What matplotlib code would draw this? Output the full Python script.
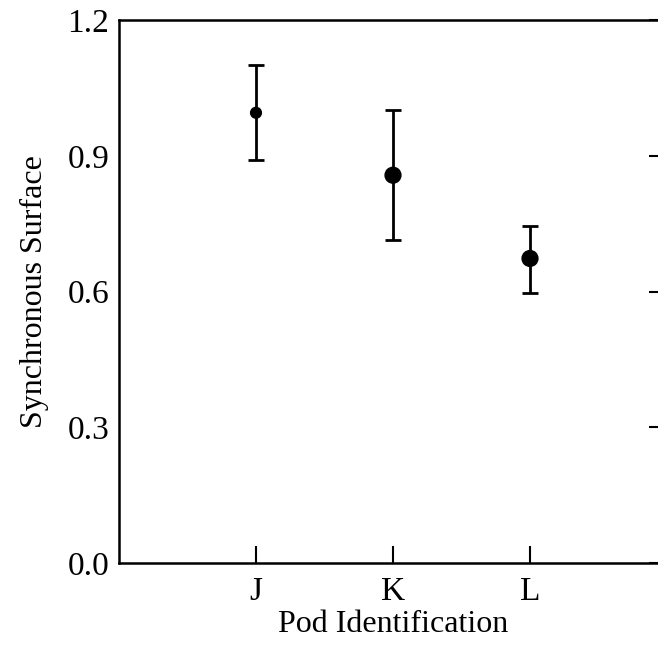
import numpy as np
import matplotlib
matplotlib.use('Agg')
import matplotlib.pyplot as plt

pods = ['J', 'K', 'L']
surface = [0.995, 0.857, 0.673]
err_low = [0.104, 0.143, 0.076]
err_high = [0.105, 0.144, 0.072]
marker_area = [60, 130, 130]

plt.rcParams['font.family'] = ['Liberation Serif', 'DejaVu Serif']

fig = plt.figure(figsize=(6.58, 6.54), dpi=100)
ax = fig.add_axes([119 / 658, 91 / 654, 548 / 658, 543 / 654])

x = np.arange(1, len(pods) + 1)
ax.errorbar(x, surface, yerr=[err_low, err_high], fmt='none', ecolor='black',
            elinewidth=2.0, capsize=6, capthick=2.0)
ax.scatter(x, surface, s=marker_area, color='black', zorder=3)

ax.set_xlim(0, 4)
ax.set_ylim(0, 1.2)
ax.set_xticks(x)
ax.set_xticklabels(pods)
ax.set_yticks([0.0, 0.3, 0.6, 0.9, 1.2])
ax.set_yticklabels(['0.0', '0.3', '0.6', '0.9', '1.2'])

# ticks only on the right side for y, inward
ax.tick_params(axis='y', direction='in', length=13, width=1.5, labelsize=24,
               left=False, right=True, pad=7)
ax.tick_params(axis='x', direction='in', length=12, width=1.5, labelsize=24,
               pad=10)
for s in ax.spines.values():
    s.set_linewidth(1.8)

ax.set_xlabel('Pod Identification', fontsize=23, labelpad=2)
ax.set_ylabel('Synchronous Surface', fontsize=23, labelpad=13)

fig.savefig('out.png', dpi=100)
